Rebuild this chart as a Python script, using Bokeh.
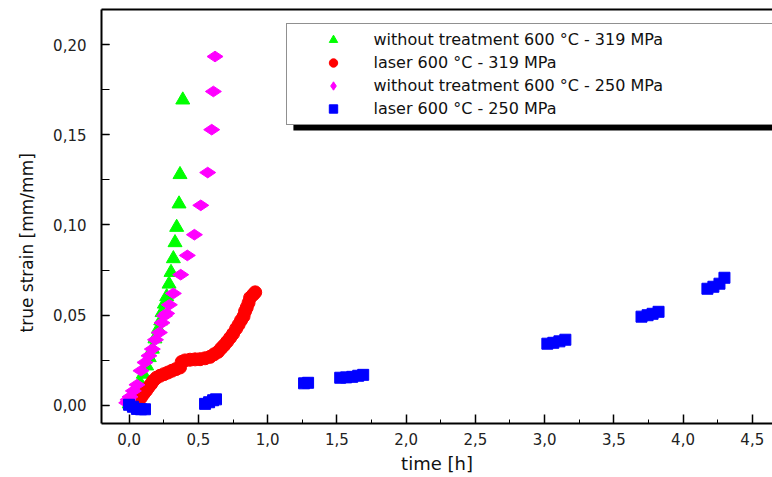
import math
from bokeh.plotting import figure
from bokeh.models import (Range1d, SingleIntervalTicker, FixedTicker, CustomJSTickFormatter, Legend,
                          LegendItem, LinearAxis, BoxAnnotation, Title)
from bokeh.embed import file_html
from bokeh.resources import INLINE

# ---- data ----
wt319_t = [0.0, 0.013, 0.035, 0.054, 0.078, 0.102, 0.126, 0.145, 0.167, 0.186, 0.210, 0.228,
           0.237, 0.254, 0.271, 0.288, 0.302, 0.319, 0.331, 0.343, 0.360, 0.367, 0.387]
wt319_e = [0.0007, 0.0020, 0.0035, 0.0079, 0.0124, 0.0172, 0.0218, 0.0264, 0.0311, 0.0368, 0.0422, 0.0468,
           0.0514, 0.0561, 0.0602, 0.0672, 0.0737, 0.0813, 0.0902, 0.0987, 0.1117, 0.1280, 0.1694]

las319_t = [0.046, 0.066, 0.085, 0.102, 0.121, 0.138, 0.158, 0.174, 0.197, 0.223, 0.252, 0.280,
            0.309, 0.338, 0.367, 0.379, 0.403, 0.439, 0.476, 0.512, 0.548, 0.584, 0.613, 0.642,
            0.664, 0.685, 0.707, 0.729, 0.750, 0.772, 0.790, 0.808, 0.826, 0.837, 0.849, 0.862,
            0.873, 0.895, 0.910]
las319_e = [0.0010, 0.0024, 0.0042, 0.0061, 0.0079, 0.0098, 0.0117, 0.0135, 0.0152, 0.0163, 0.0172, 0.0181,
            0.0191, 0.0200, 0.0209, 0.0240, 0.0248, 0.0252, 0.0254, 0.0255, 0.0260, 0.0268, 0.0282, 0.0296,
            0.0315, 0.0332, 0.0352, 0.0374, 0.0396, 0.0424, 0.0446, 0.0471, 0.0493, 0.0521, 0.0542, 0.0568,
            0.0596, 0.0613, 0.0626]

wt250_t = [-0.018, -0.009, 0.006, 0.030, 0.056, 0.085, 0.114, 0.143, 0.167, 0.190, 0.218, 0.237,
           0.255, 0.271, 0.290, 0.319, 0.372, 0.420, 0.471, 0.517, 0.567, 0.596, 0.608, 0.620]
wt250_e = [0.0013, 0.0030, 0.0046, 0.0079, 0.0113, 0.0191, 0.0237, 0.0274, 0.0311, 0.0363, 0.0403, 0.0457,
           0.0496, 0.0509, 0.0557, 0.0620, 0.0724, 0.0831, 0.0946, 0.1109, 0.1291, 0.1529, 0.1741, 0.1935]

las250_t = [-0.001, 0.027, 0.056, 0.085, 0.114, 0.548, 0.577, 0.606, 0.627, 1.263, 1.292,
            1.524, 1.567, 1.611, 1.654, 1.690, 3.020, 3.063, 3.107, 3.150,
            3.700, 3.744, 3.780, 3.823, 4.176, 4.219, 4.263, 4.299]
las250_e = [0.0002, -0.0009, -0.0021, -0.0023, -0.0023, 0.0007, 0.0016, 0.0027, 0.0032, 0.0121, 0.0124,
            0.0152, 0.0154, 0.0157, 0.0163, 0.0168, 0.0341, 0.0346, 0.0354, 0.0363,
            0.0491, 0.0499, 0.0507, 0.0518, 0.0646, 0.0657, 0.0674, 0.0707]

labels = ["without treatment 600 \u00b0C - 319 MPa",
          "laser 600 \u00b0C - 319 MPa",
          "without treatment 600 \u00b0C - 250 MPa",
          "laser 600 \u00b0C - 250 MPa"]

FONT = "DejaVu Sans"

p = figure(width=772, height=477, output_backend="svg", toolbar_location=None,
           x_range=Range1d(-0.2, 4.646), y_range=Range1d(-0.0102, 0.2196),
           min_border_left=101, min_border_right=0, min_border_top=9, min_border_bottom=54)
p.outline_line_color = None
p.grid.visible = False
p.background_fill_color = "white"
p.border_fill_color = "white"

# axes
xa = p.xaxis[0]
xa.ticker = SingleIntervalTicker(interval=0.5, num_minor_ticks=2)
xa.formatter = CustomJSTickFormatter(code="return tick.toFixed(1).replace('.', ',');")
xa.major_tick_in = 9
xa.major_tick_out = 0
xa.minor_tick_in = 4
xa.minor_tick_out = 0
xa.axis_line_width = 2
xa.major_tick_line_width = 1.5
xa.major_label_standoff = 9
xa.major_label_text_font = FONT
xa.major_label_text_font_size = "15px"
xa.major_label_text_color = "#222222"
xa.axis_label = "time [h]"
xa.axis_label_text_font = FONT
xa.axis_label_text_font_size = "18px"
xa.axis_label_text_font_style = "normal"
xa.axis_label_text_color = "#111111"
xa.axis_label_standoff = 5

ya = p.yaxis[0]
ya.ticker = SingleIntervalTicker(interval=0.05, num_minor_ticks=2)
ya.formatter = CustomJSTickFormatter(code="return tick.toFixed(2).replace('.', ',');")
ya.major_tick_in = 8
ya.major_tick_out = 0
ya.minor_tick_in = 8
ya.minor_tick_out = 0
ya.axis_line_width = 2
ya.major_tick_line_width = 1.5
ya.major_label_standoff = 15
ya.major_label_text_font = FONT
ya.major_label_text_font_size = "15px"
ya.major_label_text_color = "#222222"

# top frame line (an empty axis)
top = LinearAxis(ticker=FixedTicker(ticks=[]), major_tick_in=0, major_tick_out=0,
                 minor_tick_in=0, minor_tick_out=0, major_label_text_font_size="0px",
                 axis_line_width=2, axis_line_color="black")
p.add_layout(top, "above")

# y axis title
p.add_layout(Title(text="true strain [mm/mm]", align="left", offset=91, text_font=FONT,
                   text_font_size="17px", text_font_style="normal", text_color="#111111",
                   standoff=27), "left")

# data
r1 = p.scatter(wt319_t, wt319_e, marker="triangle", size=14, fill_color="#00ff00", line_color="#00ff00")
r2 = p.scatter(las319_t, las319_e, marker="circle", size=13, fill_color="#ff0000", line_color="#ff0000")
r3 = p.scatter(wt250_t, wt250_e, marker="diamond", size=16, angle=math.pi / 2,
               fill_color="#ff00ff", line_color="#ff00ff")
r4 = p.scatter(las250_t, las250_e, marker="square", size=11, fill_color="#0000ff", line_color="#0000ff")

# legend shadow
p.add_layout(BoxAnnotation(left=1.186, right=5.0, top=0.1564, bottom=0.1524,
                           fill_color="black", fill_alpha=1.0, line_color=None))

legend = Legend(items=[LegendItem(label=labels[0], renderers=[r1]),
                       LegendItem(label=labels[1], renderers=[r2]),
                       LegendItem(label=labels[2], renderers=[r3]),
                       LegendItem(label=labels[3], renderers=[r4])],
                location=(184.5, 298), padding=5, spacing=2,
                glyph_width=82, glyph_height=21, label_height=21, label_standoff=0,
                label_width=440,
                label_text_font=FONT, label_text_font_size="16px", label_text_color="#111111",
                border_line_color="#222222", border_line_width=1.2,
                background_fill_color="white", background_fill_alpha=1.0)
p.add_layout(legend, "center")

open("out.html", "w").write(file_html(p, INLINE))
